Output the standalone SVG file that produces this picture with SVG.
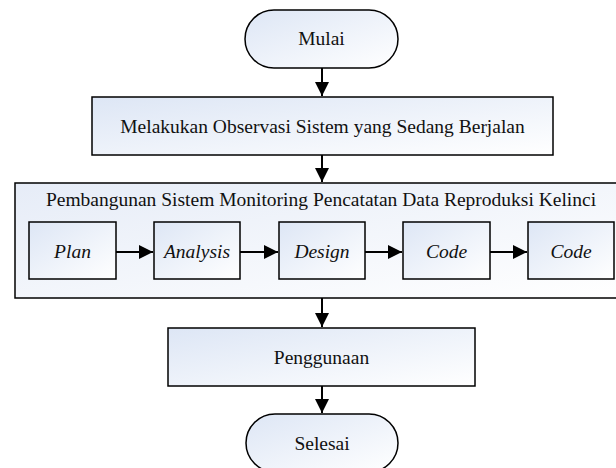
<svg xmlns="http://www.w3.org/2000/svg" width="616" height="468" viewBox="0 0 616 468">
<defs>
<linearGradient id="g" x1="0" y1="0" x2="1" y2="1">
<stop offset="0" stop-color="#dde6f5"/>
<stop offset="1" stop-color="#ffffff"/>
</linearGradient>
<linearGradient id="g2" x1="0" y1="0" x2="1" y2="1">
<stop offset="0" stop-color="#e6ecf7"/>
<stop offset="1" stop-color="#ffffff"/>
</linearGradient>
<marker id="ah" markerWidth="14" markerHeight="14" viewBox="0 0 14 14" refX="14" refY="7" orient="auto" markerUnits="userSpaceOnUse">
<path d="M0,0 L14,7 L0,14 Z" fill="#000"/>
</marker>
<style>
.s{fill:url(#g);stroke:#000;stroke-width:1.5}
.c{fill:url(#g2);stroke:#000;stroke-width:1.5}
.t{font-family:"Liberation Serif","Times New Roman","DejaVu Serif",serif;font-size:19.5px;fill:#111;text-anchor:middle}
.i{font-style:italic}
.a{stroke:#000;stroke-width:2;fill:none;marker-end:url(#ah)}
</style>
</defs>
<rect width="616" height="468" fill="#fff"/>
<g id="mulai">
<rect class="s" x="245" y="10" width="153" height="58" rx="29"/>
<text class="t" x="321.5" y="45">Mulai</text>
</g>
<g id="observasi">
<rect class="s" x="92" y="97" width="461" height="58"/>
<text class="t" x="322.5" y="133">Melakukan Observasi Sistem yang Sedang Berjalan</text>
</g>
<g id="pembangunan">
<rect class="c" x="15" y="183" width="604" height="115"/>
<text class="t" x="321" y="206">Pembangunan Sistem Monitoring Pencatatan Data Reproduksi Kelinci</text>
</g>
<g id="plan">
<rect class="s" x="29" y="222" width="87" height="57"/>
<text class="t i" x="72.5" y="258">Plan</text>
</g>
<g id="analysis">
<rect class="s" x="154" y="222" width="86" height="57"/>
<text class="t i" x="197" y="258">Analysis</text>
</g>
<g id="design">
<rect class="s" x="279" y="222" width="86" height="57"/>
<text class="t i" x="322" y="258">Design</text>
</g>
<g id="code1">
<rect class="s" x="403" y="222" width="87" height="57"/>
<text class="t i" x="446.5" y="258">Code</text>
</g>
<g id="code2">
<rect class="s" x="528" y="222" width="86" height="57"/>
<text class="t i" x="571" y="258">Code</text>
</g>
<g id="penggunaan">
<rect class="s" x="168" y="328" width="307" height="58"/>
<text class="t" x="321.5" y="364">Penggunaan</text>
</g>
<g id="selesai">
<rect class="s" x="246" y="414" width="152" height="58" rx="29"/>
<text class="t" x="322" y="450">Selesai</text>
</g>
<g id="connectors">
<line class="a" x1="322" y1="68" x2="322" y2="96"/>
<line class="a" x1="322" y1="155" x2="322" y2="182"/>
<line class="a" x1="116" y1="252" x2="153" y2="252"/>
<line class="a" x1="240" y1="252" x2="278" y2="252"/>
<line class="a" x1="365" y1="252" x2="402" y2="252"/>
<line class="a" x1="490" y1="252" x2="527" y2="252"/>
<line class="a" x1="322" y1="298" x2="322" y2="327"/>
<line class="a" x1="322" y1="386" x2="322" y2="413"/>
</g>
</svg>
